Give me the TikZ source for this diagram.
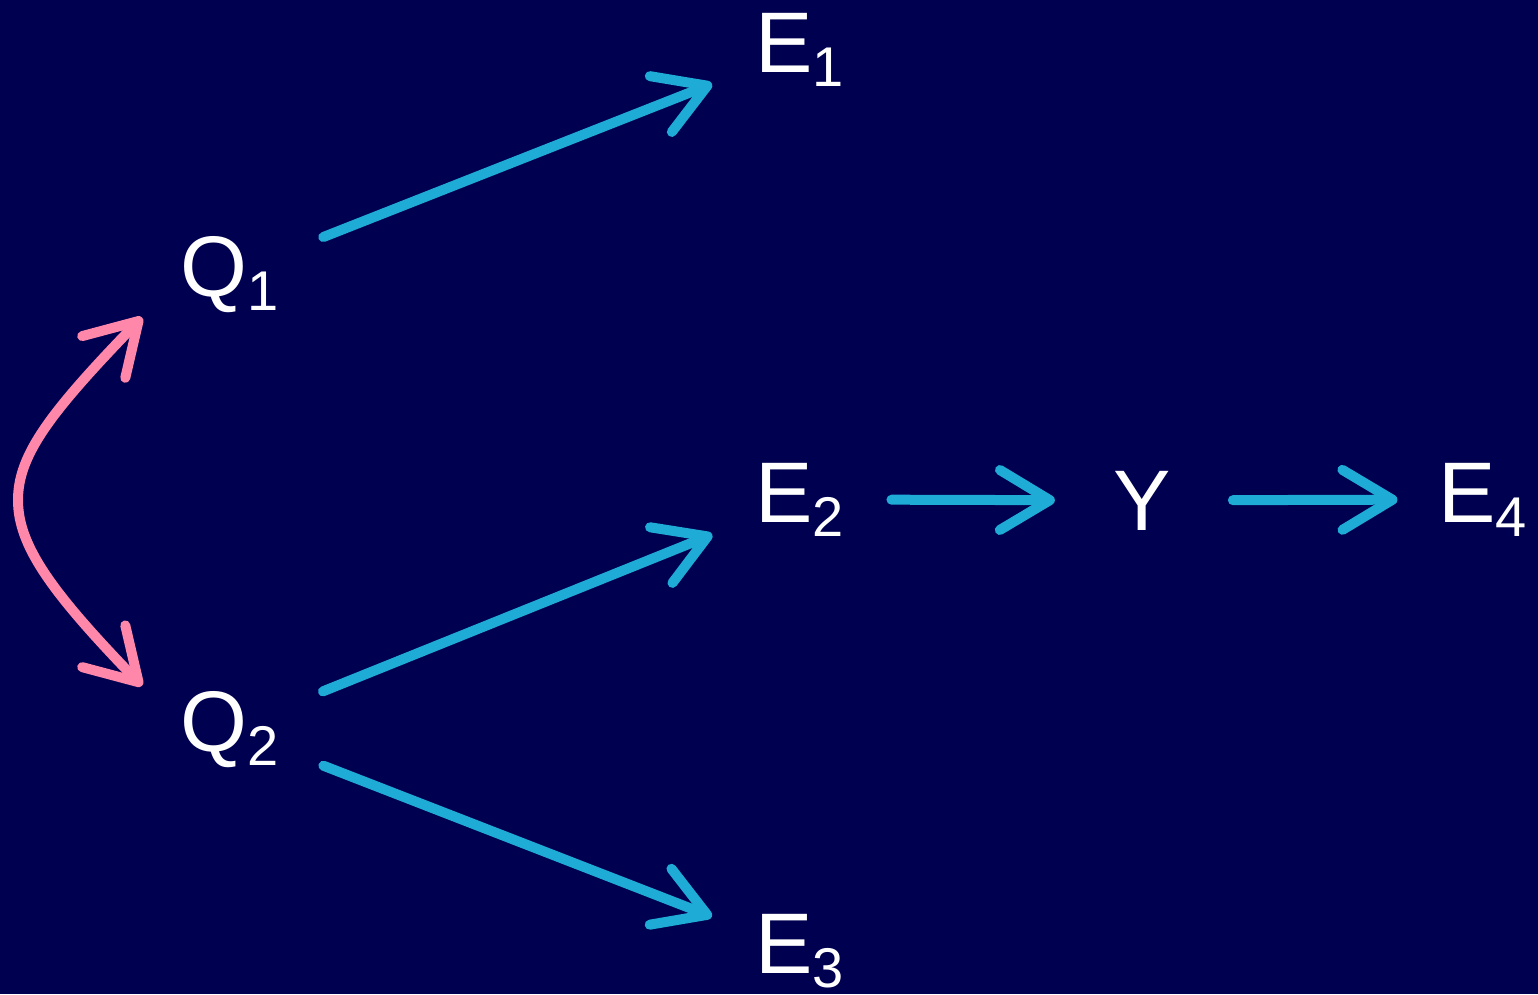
\documentclass[tikz,border=0pt]{standalone}
\usepackage{fontspec}
\setmainfont{Liberation Sans}
\usetikzlibrary{arrows.meta,calc}
\definecolor{bg}{RGB}{0,0,80}
\definecolor{cy}{RGB}{30,172,214}
\definecolor{pk}{RGB}{255,136,170}
\newcommand{\lbl}[2]{#1\raisebox{-14pt}{\fontsize{56pt}{56pt}\selectfont #2}}
\tikzset{barbtip/.tip={Straight Barb[length=50pt,width=60pt,round]}}
\begin{document}
\begin{tikzpicture}[x=1pt,y=-1pt,
  lab/.style={text=white, inner sep=0pt, anchor=base west, font=\fontsize{86pt}{86pt}\selectfont},
  cyarrow/.style={draw=cy, line width=10pt, line cap=round, -{barbtip}},
  pkarrow/.style={draw=pk, line width=10pt, line cap=round, {barbtip}-{barbtip}}]
\fill[bg] (0,0) rectangle (1538,994);
\useasboundingbox (0,0) rectangle (1538,994);
\node[lab] (Q1) at (180,296) {\lbl{Q}{1}};
\node[lab] (Q2) at (180,751) {\lbl{Q}{2}};
\node[lab] (E1) at (755,72) {\lbl{E}{1}};
\node[lab] (E2) at (755,522) {\lbl{E}{2}};
\node[lab] (E3) at (755,973) {\lbl{E}{3}};
\node[lab] (Y) at (1113,530) {Y};
\node[lab] (E4) at (1438,522) {\lbl{E}{4}};
\draw[cyarrow] ($(Q1)!101pt!(E1)$) -- ($(E1)!94pt!(Q1)$);
\draw[cyarrow] ($(Q2)!101pt!(E2)$) -- ($(E2)!94pt!(Q2)$);
\draw[cyarrow] ($(Q2)!101pt!(E3)$) -- ($(E3)!94pt!(Q2)$);
\draw[cyarrow] ($(E2)!92pt!(Y)$) -- ($(Y)!87pt!(E2)$);
\draw[cyarrow] ($(Y)!91pt!(E4)$) -- ($(E4)!85pt!(Y)$);
\draw[pkarrow] ($(Q1.south west)+(-38,5)$) .. controls ($(Q1.south west)+(-130,100)$) and (18,455) .. (18,500)
  .. controls (18,545) and ($(Q2.north west)+(-130,-100)$) .. ($(Q2.north west)+(-38,-5)$);
\end{tikzpicture}
\end{document}
